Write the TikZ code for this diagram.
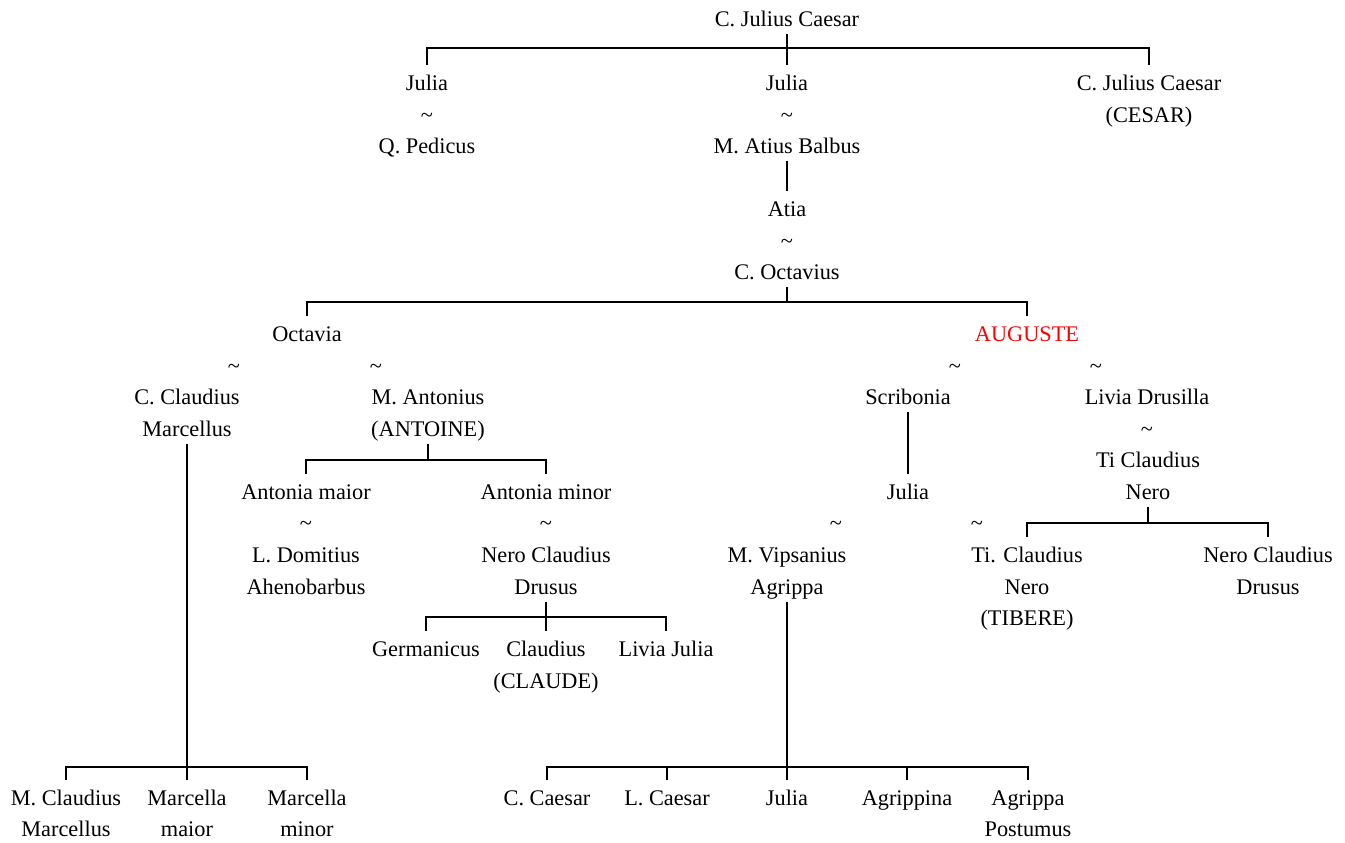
\documentclass[tikz,border=0pt]{standalone}
\usepackage{fontspec}
\setmainfont{Liberation Serif}
\newcommand\pfont{\fontsize{22.3}{31.5}\selectfont\lineskiplimit=-100pt\relax}
\newcommand\ps{\rule[-7.5pt]{0pt}{33pt}}
\newcommand\tl{\ps\textasciitilde}
\tikzset{
  person/.style={anchor=north, inner sep=0pt, outer sep=0pt, align=center, font=\pfont},
  emperor/.style={person, text=red},
  link/.style={draw=black, line width=1.5pt}
}
\begin{document}
\begin{tikzpicture}[x=1pt,y=1pt]
\fill[white] (0,0) rectangle (1345,-843);
\useasboundingbox (0,0) rectangle (1345,-843);
% row tops
\def\Ra{1}\def\Rb{65}\def\Rc{96.5}\def\Rd{128}
\def\Re{191}\def\Rf{222.5}\def\Rg{254}
\def\Rh{316}\def\Ri{348}\def\Rj{379}\def\Rk{411}\def\Rl{442}
\def\Rm{474}\def\Rn{505}\def\Ro{537}\def\Rp{631}\def\Rq{779.5}

\node[person] (caesar) at (787,-\Ra) {\ps C. Julius Caesar};
\node[person] (julia1) at (427,-\Rb) {\ps Julia};
\node[person] (t1) at (427,-\Rc) {\tl};
\node[person] (pedicus) at (427,-\Rd) {\ps Q. Pedicus};
\node[person] (julia2) at (787,-\Rb) {\ps Julia};
\node[person] (t2) at (787,-\Rc) {\tl};
\node[person] (balbus) at (787,-\Rd) {\ps M. Atius Balbus};
\node[person] (cesar) at (1149,-\Rb) {\ps C. Julius Caesar\\\ps (CESAR)};
\node[person] (atia) at (787,-\Re) {\ps Atia};
\node[person] (t3) at (787,-\Rf) {\tl};
\node[person] (octavius) at (787,-\Rg) {\ps C. Octavius};
\node[person] (octavia) at (307,-\Rh) {\ps Octavia};
\node[emperor] (auguste) at (1027,-\Rh) {\ps AUGUSTE};
\node[person] (t4) at (234,-\Ri) {\tl};
\node[person] (t5) at (376,-\Ri) {\tl};
\node[person] (marcellus) at (187,-\Rj) {\ps C. Claudius\\\ps Marcellus};
\node[person] (antonius) at (428,-\Rj) {\ps M. Antonius\\\ps (ANTOINE)};
\node[person] (t6) at (955,-\Ri) {\tl};
\node[person] (t7) at (1096,-\Ri) {\tl};
\node[person] (scribonia) at (908,-\Rj) {\ps Scribonia};
\node[person] (livia) at (1147,-\Rj) {\ps Livia Drusilla};
\node[person] (t8) at (1147,-\Rk) {\tl};
\node[person] (tiberius) at (1148,-\Rl) {\ps Ti Claudius\\\ps Nero};
\node[person] (antmaior) at (306,-\Rm) {\ps Antonia maior};
\node[person] (antminor) at (546,-\Rm) {\ps Antonia minor};
\node[person] (t9) at (306,-\Rn) {\tl};
\node[person] (t10) at (546,-\Rn) {\tl};
\node[person] (domitius) at (306,-\Ro) {\ps L. Domitius\\\ps Ahenobarbus};
\node[person] (drusus) at (546,-\Ro) {\ps Nero Claudius\\\ps Drusus};
\node[person] (juliaA) at (908,-\Rm) {\ps Julia};
\node[person] (t11) at (836,-\Rn) {\tl};
\node[person] (t12) at (977,-\Rn) {\tl};
\node[person] (agrippa) at (787,-\Ro) {\ps M. Vipsanius\\\ps Agrippa};
\node[person] (tiberius2) at (1027,-\Ro) {\ps Ti. Claudius\\\ps Nero\\\ps (TIBERE)};
\node[person] (drususmaior) at (1268,-\Ro) {\ps Nero Claudius\\\ps Drusus};
\node[person] (germanicus) at (426,-\Rp) {\ps Germanicus};
\node[person] (claudius) at (546,-\Rp) {\ps Claudius\\\ps (CLAUDE)};
\node[person] (liviajulia) at (666,-\Rp) {\ps Livia Julia};
\node[person] (mcm) at (66,-\Rq) {\ps M. Claudius\\\ps Marcellus};
\node[person] (mmaior) at (187,-\Rq) {\ps Marcella\\\ps maior};
\node[person] (mminor) at (307,-\Rq) {\ps Marcella\\\ps minor};
\node[person] (ccaesar) at (547,-\Rq) {\ps C. Caesar};
\node[person] (lcaesar) at (667,-\Rq) {\ps L. Caesar};
\node[person] (juliaB) at (787,-\Rq) {\ps Julia};
\node[person] (agrippina) at (907,-\Rq) {\ps Agrippina};
\node[person] (postumus) at (1028,-\Rq) {\ps Agrippa\\\ps Postumus};

\coordinate (bar1) at (787,-48);
\draw[link] (julia1.north) |- (bar1) -| (cesar.north);
\draw[link] (caesar.south) -- (julia2.north);
\draw[link] (balbus.south) -- (atia.north);
\coordinate (bar2) at (787,-302);
\draw[link] (octavia.north) |- (bar2) -| (auguste.north);
\draw[link] (octavius.south) -- (bar2);
\coordinate (bar3) at (428,-460);
\draw[link] (antmaior.north) |- (bar3) -| (antminor.north);
\draw[link] (antonius.south) -- (bar3);
\draw[link] (scribonia.south) -- (juliaA.north);
\coordinate (bar4) at (1148,-523);
\draw[link] (tiberius2.north) |- (bar4) -| (drususmaior.north);
\draw[link] (tiberius.south) -- (bar4);
\coordinate (bar5) at (546,-617);
\draw[link] (germanicus.north) |- (bar5) -| (liviajulia.north);
\draw[link] (drusus.south) -- (claudius.north);
\coordinate (bar6) at (187,-767);
\draw[link] (mcm.north) |- (bar6) -| (mminor.north);
\draw[link] (marcellus.south) -- (mmaior.north);
\coordinate (bar7) at (787,-767);
\draw[link] (ccaesar.north) |- (bar7) -| (postumus.north);
\draw[link] (agrippa.south) -- (juliaB.north);
\draw[link] (lcaesar.north) -- (lcaesar.north |- bar7);
\draw[link] (agrippina.north) -- (agrippina.north |- bar7);
\end{tikzpicture}
\end{document}
